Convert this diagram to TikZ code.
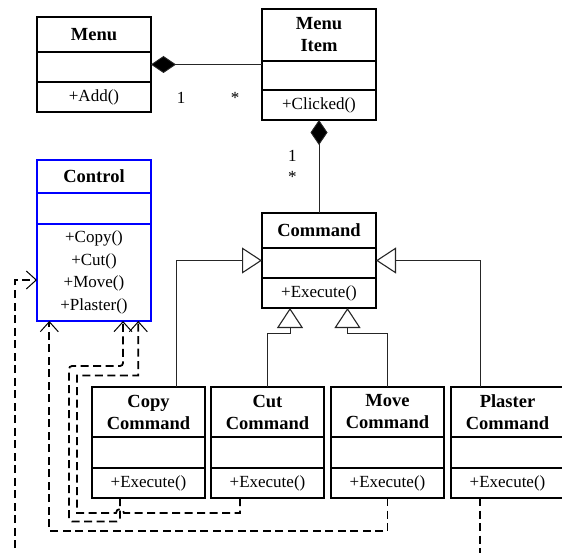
\documentclass[tikz,border=0pt]{standalone}
\usepackage{fontspec}
\setmainfont{Liberation Serif}
\usetikzlibrary{arrows.meta}

\tikzset{
  classcolor/.style={draw=black},
  framebox/.style={classcolor, line width=1.3pt, rectangle, inner sep=0pt, outer sep=0pt},
  frameline/.style={classcolor, line width=1.3pt},
  headtext/.style={font=\fontsize{18.5}{22}\selectfont\bfseries, align=center, inner sep=0pt},
  optext/.style={font=\fontsize{17}{22.7}\selectfont, align=center, inner sep=0pt},
  link/.style={draw=black!85, line width=0.9pt},
  owner/.style={link, -{Diamond[length=25pt,width=17pt,fill=black]}},
  inherit/.style={link, -{Triangle[open,fill=white,length=20pt,width=26pt,line width=1.1pt]}},
  dep/.style={draw=black, line width=1.8pt, dash pattern=on 8pt off 4.5pt,
    -{Straight Barb[length=10pt,width=18pt,line width=1pt]}},
  mult/.style={font=\fontsize{17}{20}\selectfont, inner sep=0pt},
}

% class box: name, x1, y1, x2, y2, header bottom, attribute bottom, header, operations
\newcommand\classbox[9]{%
  \node[framebox, minimum width={(#4-#2)*1pt}, minimum height={(#5-#3)*1pt}]
    (#1) at ({(#2+#4)/2},{(#3+#5)/2}) {};
  \draw[frameline] (#2,#6) -- (#4,#6) (#2,#7) -- (#4,#7);
  \node[headtext] (#1-head) at ({(#2+#4)/2},{(#3+#6)/2}) {#8};
  \node[optext] (#1-ops) at ({(#2+#4)/2},{(#7+#5)/2}) {#9};
}

\begin{document}
\begin{tikzpicture}[x=1pt, y=-1pt]
\useasboundingbox (0,0) rectangle (562,553);
\fill[white] (0,0) rectangle (562,553);
\clip (0,0) rectangle (562,553);

% classes
\classbox{menu}{37}{17}{151}{112}{52}{82}{Menu}{+Add()}
\classbox{item}{262}{9}{376}{120}{61}{90}{Menu\\Item}{+Clicked()}
\begin{scope}[classcolor/.style={draw=blue}]
\classbox{control}{37}{160}{151}{321}{193}{224}{Control}{+Copy()\\+Cut()\\+Move()\\+Plaster()}
\end{scope}
\classbox{command}{262}{213}{376}{308}{248}{278}{Command}{+Execute()}
\classbox{copy}{92}{387}{205}{498}{437}{468}{Copy\\Command}{+Execute()}
\classbox{cut}{211}{387}{324}{498}{437}{468}{Cut\\Command}{+Execute()}
\classbox{move}{331}{387}{444}{498}{437}{468}{Move\\Command}{+Execute()}
\classbox{plaster}{451}{387}{564}{498}{437}{468}{Plaster\\Command}{+Execute()}

% composition
\draw[owner] (item.west) -- (menu.east);
\draw[owner] (command.north) -- (item.south);
\node[mult] (m1) at (181,97.5) {1};
\node[mult] (m2) at (235,97.5) {*};
\node[mult] (m3) at (292.3,156) {1};
\node[mult] (m4) at (292.3,177) {*};

% generalisation
\coordinate (cutbend) at (290,333);
\coordinate (movebend) at (347.5,333);
\draw[inherit] ([xshift=28pt]copy.north) |- (command.west);
\draw[inherit] ([xshift=-27.5pt]plaster.north) |- (command.east);
\draw[inherit] (cut.north) |- (cutbend) -- (cutbend |- command.south);
\draw[inherit] (move.north) |- (movebend) -- (movebend |- command.south);

% dependencies on Control
\coordinate (cuthop) at (124,513);
\coordinate (cutturn) at (77,375.5);
\coordinate (copyturn) at (69,366);
\coordinate (ctlin) at (15,280);
\draw[dep, rounded corners=3pt] ([xshift=-28.5pt]copy.south) -- ++(0,23.5) -| (copyturn) -| ([xshift=29pt]control.south);
\draw[dep] ([xshift=-27.5pt]cut.south) |- (cuthop) arc[start angle=0, end angle=180, radius=4pt] -| (cutturn) -| ([xshift=44.3pt]control.south);
\draw[dep] (move.south) -- ++(0,33) -| ([xshift=-44.7pt]control.south);
\draw[dep] ([xshift=-27.5pt]plaster.south) -- ++(0,80) -| (ctlin) -- (control.west |- ctlin);
\end{tikzpicture}
\end{document}
